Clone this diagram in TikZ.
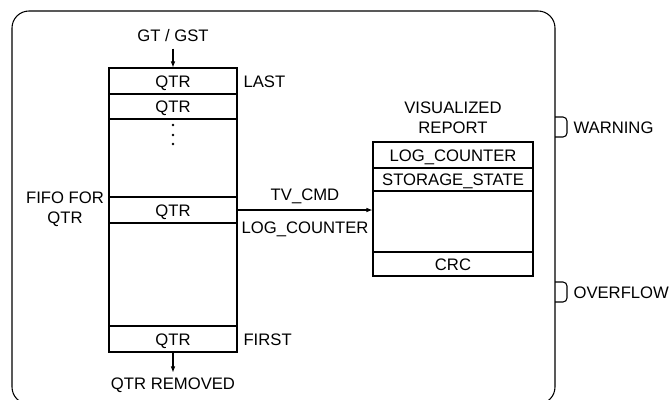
\documentclass[tikz,border=0pt]{standalone}
\usepackage{fontspec}
\setmainfont{Liberation Sans}
\usetikzlibrary{positioning,arrows.meta}

\begin{document}
\begin{tikzpicture}[x=0.75pt, y=-0.75pt,
  font=\fontsize{12.5}{15}\selectfont,
  line width=0.8pt,
  lbl/.style={inner sep=0pt, text height=9pt, text depth=0pt},
  cell/.style={draw, lbl, minimum width=96pt},
  rcell/.style={draw, lbl, minimum width=120pt},
  arr/.style={-{Latex[length=4.5pt, width=3.5pt]}}]
  \useasboundingbox (0,0) rectangle (669,400);
  \clip (0,0) rectangle (669,400);
  % outer block
  \draw[rounded corners=12.75pt] (12,11) rectangle (555,404);
  % fifo stack
  \node[cell, minimum height=19.5pt] (last) at (173,81) {QTR};
  \node[cell, minimum height=18.75pt] (next) at (173,106.5) {QTR};
  \node[cell, minimum height=58.5pt] (gapa) at (173,158) {};
  \node[cell, minimum height=19.5pt] (mid) at (173,210) {QTR};
  \node[cell, minimum height=77.25pt] (gapb) at (173,274.5) {};
  \node[cell, minimum height=19.5pt] (first) at (173,339) {QTR};
  \foreach \y in {125,135,144} {\fill (173,\y) circle (1.1pt);}
  % stack labels
  \node[lbl] (gt) at (173,35) {GT / GST};
  \node[lbl] (removed) at (173,383) {QTR REMOVED};
  \node[lbl, anchor=west] (lastlbl) at (243,81) {LAST};
  \node[lbl, anchor=west] (firstlbl) at (243,339) {FIRST};
  \node[align=center, inner sep=0pt] (fifo) at (65,209) {FIFO FOR\\QTR};
  % visualized report
  \node[align=center, inner sep=0pt] (reptitle) at (453,118) {VISUALIZED\\REPORT};
  \node[rcell, minimum height=19.5pt] (replog) at (453,155) {LOG\_COUNTER};
  \node[rcell, minimum height=17.25pt] (repstate) at (453,179.5) {STORAGE\_STATE};
  \node[rcell, minimum height=45.75pt] (repdata) at (453,221.5) {};
  \node[rcell, minimum height=18pt] (repcrc) at (453,264) {CRC};
  % ports
  \draw[rounded corners=3pt] (555,117) -| (567,137) -- (555,137);
  \node[lbl, anchor=west] (warning) at (573,127) {WARNING};
  \draw[rounded corners=3pt] (555,282) -| (567,302) -- (555,302);
  \node[lbl, anchor=west] (overflow) at (573,292) {OVERFLOW};
  % arrows
  \draw[arr] ([yshift=-5.25pt]gt.south) -- (last.north);
  \draw[arr] (first.south) -- ([yshift=3pt]removed.north);
  \draw[arr] (mid.east) -- (mid.east -| repdata.west)
    node[lbl, midway, above=6.75pt] (tvcmd) {TV\_CMD}
    node[lbl, midway, below=8.25pt] (tvlog) {LOG\_COUNTER};
\end{tikzpicture}
\end{document}
